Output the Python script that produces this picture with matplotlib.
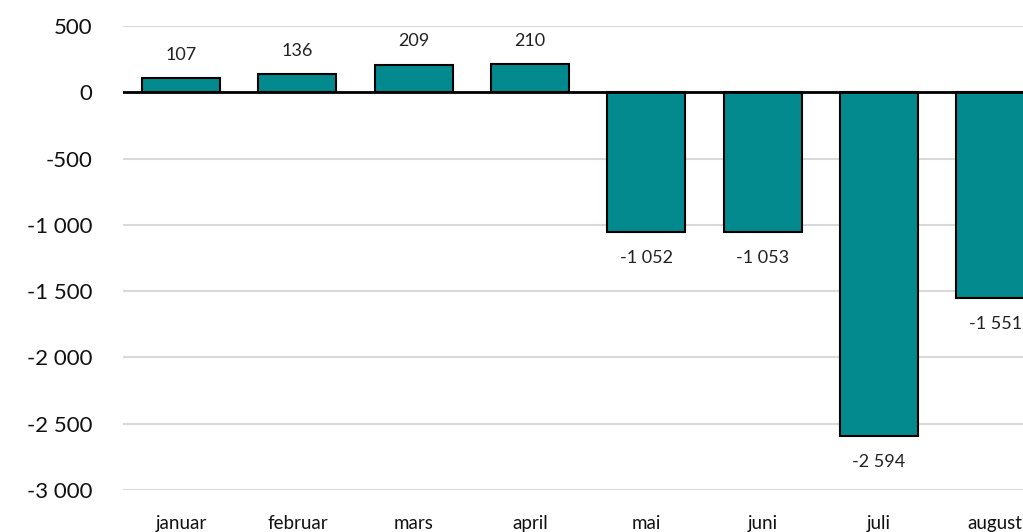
import matplotlib
matplotlib.use("Agg")
import matplotlib.pyplot as plt
from matplotlib.ticker import FuncFormatter

months = ["januar", "februar", "mars", "april", "mai", "juni", "juli", "august"]
values = [107, 136, 209, 210, -1052, -1053, -2594, -1551]
yticks = [500, 0, -500, -1000, -1500, -2000, -2500, -3000]

plt.rcParams["font.family"] = ["Lato", "DejaVu Sans"]

def fmt(v):
    s = f"{abs(int(v)):,}".replace(",", " ")
    return ("-" if v < 0 else "") + s

fig = plt.figure(figsize=(10.23, 5.32), dpi=100)
ax = fig.add_axes([123 / 1023, 42 / 532, 1 - 123 / 1023, (490 - 26) / 532])

x = list(range(len(months)))
ax.bar(x, values, width=0.67, color="#028A8F", edgecolor="black",
       linewidth=1.5, zorder=3)

for xi, v in zip(x, values):
    if v >= 0:
        ax.annotate(fmt(v), (xi, v), xytext=(0, 11), textcoords="offset points",
                    ha="center", va="bottom", fontsize=13, color="#222222")
    else:
        ax.annotate(fmt(v), (xi, v), xytext=(0, -13), textcoords="offset points",
                    ha="center", va="top", fontsize=13, color="#222222")

ax.set_ylim(-3000, 500)
ax.set_xlim(-0.5, (1023 - 123) / 116 - 0.5 - 0.02)
ax.set_yticks(yticks)
ax.yaxis.set_major_formatter(FuncFormatter(lambda v, p: fmt(v)))
ax.set_xticks(x)
ax.set_xticklabels(months)
ax.tick_params(axis="y", length=0, pad=22, labelsize=16, labelcolor="#111111")
ax.tick_params(axis="x", length=0, pad=18, labelsize=13.5, labelcolor="#111111")

ax.grid(axis="y", color="#d9d9d9", linewidth=1.5, zorder=0)
ax.axhline(0, color="black", linewidth=2, zorder=4)
for s in ax.spines.values():
    s.set_visible(False)

fig.savefig("out.png", dpi=100)
